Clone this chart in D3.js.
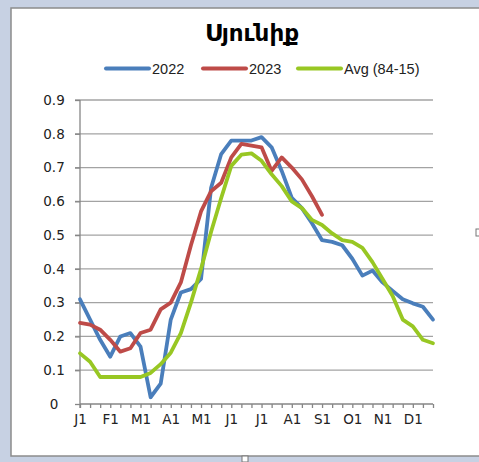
<!DOCTYPE html>
<html>
<head>
<meta charset="utf-8">
<script src="https://cdn.jsdelivr.net/npm/d3@7"></script>
<style>
  html, body { margin: 0; padding: 0; background: #c7d1e3; }
  svg { display: block; }
</style>
</head>
<body>
<div id="chart"></div>
<script>
// dekads: 3 points per month, Jan 1 .. Dec 21
var monthLabels = ["J1", "F1", "M1", "A1", "M1", "J1", "J1", "A1", "S1", "O1", "N1", "D1"];
var yTicks = [0, 0.1, 0.2, 0.3, 0.4, 0.5, 0.6, 0.7, 0.8, 0.9];
var seriesNames = ["2022", "2023", "Avg (84-15)"];

var v2022 = [0.31, 0.25, 0.19, 0.14, 0.20, 0.21, 0.17, 0.02, 0.06, 0.25, 0.33, 0.34,
             0.37, 0.64, 0.74, 0.78, 0.78, 0.78, 0.79, 0.76, 0.69, 0.61, 0.58, 0.535,
             0.485, 0.48, 0.47, 0.43, 0.38, 0.395, 0.36, 0.335, 0.31, 0.298, 0.288, 0.25];
var v2023 = [0.24, 0.235, 0.22, 0.19, 0.155, 0.165, 0.21, 0.22, 0.28, 0.30, 0.36, 0.47,
             0.57, 0.63, 0.655, 0.73, 0.77, 0.765, 0.76, 0.69, 0.73, 0.70, 0.665, 0.615, 0.56];
var vAvg  = [0.15, 0.125, 0.08, 0.08, 0.08, 0.08, 0.08, 0.092, 0.118, 0.152, 0.21, 0.30,
             0.40, 0.51, 0.61, 0.705, 0.738, 0.742, 0.72, 0.68, 0.645, 0.60, 0.58, 0.545,
             0.53, 0.505, 0.485, 0.48, 0.462, 0.42, 0.37, 0.32, 0.25, 0.23, 0.19, 0.18];

var colors = ["#4a7ebb", "#be4b48", "#98c723"];

var W = 479, H = 462;
var svg = d3.select("#chart").append("svg")
    .attr("width", W)
    .attr("height", H);

// chart frame
svg.append("rect")
    .attr("x", 11).attr("y", 8)
    .attr("width", 470).attr("height", 448)
    .attr("fill", "#fff")
    .attr("stroke", "#8c8c8c")
    .attr("stroke-width", 1.5);

var dekads = d3.range(36);
var x = d3.scalePoint().domain(dekads).range([80, 433]);
var y = d3.scaleLinear().domain([0, 0.9]).range([404, 100]);

// grid
svg.append("g").selectAll("line")
    .data(yTicks.filter(function(d) { return d > 0; }))
    .enter().append("line")
    .attr("x1", 75).attr("x2", 433)
    .attr("y1", function(d) { return y(d); })
    .attr("y2", function(d) { return y(d); })
    .attr("stroke", "#a3a3a3")
    .attr("stroke-width", 1.3);

// y axis
var yAxis = svg.append("g")
    .attr("transform", "translate(80,0)")
    .call(d3.axisLeft(y).tickValues(yTicks).tickSize(5).tickPadding(3)
        .tickFormat(function(d) { return d === 0 ? "0" : d.toFixed(1); }));
yAxis.selectAll("text")
    .attr("x", -26)
    .attr("text-anchor", "middle")
    .style("font-family", "DejaVu Sans")
    .style("font-size", "13.5px")
    .attr("fill", "#222");

// x axis
var xAxis = svg.append("g")
    .attr("transform", "translate(0,404)")
    .call(d3.axisBottom(x).tickSize(4).tickPadding(6)
        .tickFormat(function(d) { return d % 3 === 0 ? monthLabels[d / 3] : ""; }));
xAxis.selectAll("text")
    .style("font-family", "DejaVu Sans")
    .style("font-size", "13.5px")
    .attr("fill", "#222");

[yAxis, xAxis].forEach(function(g) {
  g.select(".domain").attr("stroke", "#868686").attr("stroke-width", 1.3);
  g.selectAll(".tick line").attr("stroke", "#868686").attr("stroke-width", 1.3);
});
xAxis.select(".domain").attr("d", "M80,0H433");
yAxis.select(".domain").attr("d", "M0,100V408");

// lines
var line = d3.line()
    .x(function(d, i) { return x(i); })
    .y(function(d) { return y(d); });

[v2022, v2023, vAvg].forEach(function(s, k) {
  svg.append("path")
      .datum(s)
      .attr("d", line)
      .attr("fill", "none")
      .attr("stroke", colors[k])
      .attr("stroke-width", 3.8)
      .attr("stroke-linejoin", "round")
      .attr("stroke-linecap", "round");
});

// title
svg.append("text")
    .attr("x", 252).attr("y", 41)
    .attr("text-anchor", "middle")
    .style("font-family", "DejaVu Sans")
    .style("font-size", "23px")
    .style("font-weight", "bold")
    .attr("fill", "#000")
    .text("Սյունիք");

// legend
var legendX = [106, 203, 298];
var leg = svg.append("g").selectAll("g")
    .data(seriesNames)
    .enter().append("g")
    .attr("transform", function(d, i) { return "translate(" + legendX[i] + ",68.5)"; });
leg.append("line")
    .attr("x1", 0).attr("x2", 43)
    .attr("stroke", function(d, i) { return colors[i]; })
    .attr("stroke-width", 4)
    .attr("stroke-linecap", "round");
leg.append("text")
    .attr("x", 46).attr("y", 5)
    .style("font-family", "Liberation Sans")
    .style("font-size", "14.5px")
    .attr("fill", "#222")
    .text(function(d) { return d; });

// selection handles
svg.append("rect")
    .attr("x", 242).attr("y", 456).attr("width", 6).attr("height", 6)
    .attr("fill", "#fff").attr("stroke", "#777");
svg.append("rect")
    .attr("x", 476).attr("y", 229).attr("width", 6).attr("height", 7)
    .attr("fill", "#fff").attr("stroke", "#777");
</script>
</body>
</html>
